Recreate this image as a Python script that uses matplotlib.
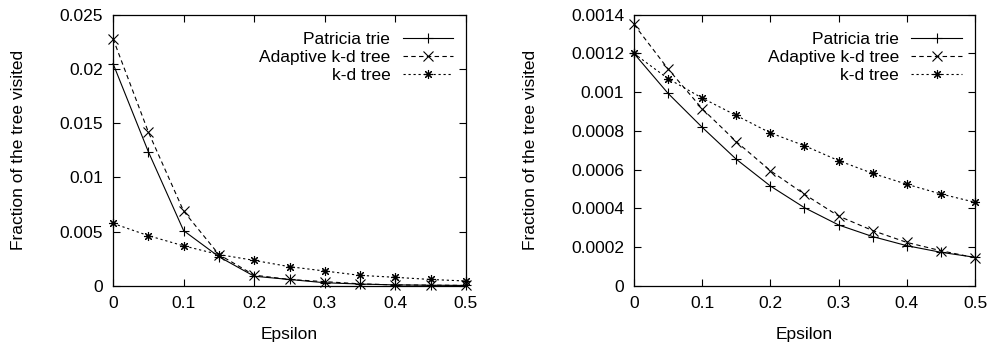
import matplotlib
matplotlib.use("Agg")
import matplotlib.pyplot as plt

plt.rcParams['font.family'] = ['Liberation Sans', 'DejaVu Sans']

epsilon = [0.0, 0.05, 0.1, 0.15, 0.2, 0.25, 0.3, 0.35, 0.4, 0.45, 0.5]

# Left panel
left_patricia = [0.0205, 0.01238, 0.0051, 0.0027, 0.0009, 0.0006, 0.0003, 0.00018, 0.0001, 0.00007, 0.00005]
left_adaptive = [0.0228, 0.0142, 0.0069, 0.0029, 0.0010, 0.0006, 0.0004, 0.0002, 0.0001, 0.00008, 0.00005]
left_kd = [0.00577, 0.00464, 0.0037, 0.0029, 0.00236, 0.00178, 0.00138, 0.00098, 0.0008, 0.0006, 0.00046]

# Right panel
right_patricia = [0.0012, 0.000994, 0.000819, 0.000654, 0.000516, 0.000404, 0.000315, 0.000255, 0.000208, 0.000174, 0.000148]
right_adaptive = [0.00135, 0.00112, 0.000915, 0.000745, 0.000595, 0.000473, 0.000361, 0.000286, 0.000225, 0.000182, 0.000146]
right_kd = [0.0012, 0.00107, 0.00097, 0.00088, 0.00079, 0.000724, 0.000647, 0.000581, 0.000525, 0.000475, 0.000432]

series_names = ["Patricia trie", "Adaptive k-d tree", "k-d tree"]

left_yticks = [0, 0.005, 0.01, 0.015, 0.02, 0.025]
left_ylabels = ["0", "0.005", "0.01", "0.015", "0.02", "0.025"]
right_yticks = [0, 0.0002, 0.0004, 0.0006, 0.0008, 0.001, 0.0012, 0.0014]
right_ylabels = ["0", "0.0002", "0.0004", "0.0006", "0.0008", "0.001", "0.0012", "0.0014"]
xticks = [0, 0.1, 0.2, 0.3, 0.4, 0.5]
xlabels = ["0", "0.1", "0.2", "0.3", "0.4", "0.5"]

FS = 12.5
fig = plt.figure(figsize=(9.94, 3.47), dpi=100)
ax1 = fig.add_axes([0.1137, 0.1758, 0.3551, 0.7818])
ax2 = fig.add_axes([0.6378, 0.1758, 0.3431, 0.7818])

styles = [
    dict(linestyle='-', marker='+'),
    dict(linestyle=(0, (4, 3)), marker='x'),
    dict(linestyle=(0, (2, 2.5)), marker=(8, 2, 0)),
]

def draw(ax, data, yticks, ylabels, ymax):
    for vals, name, st in zip(data, series_names, styles):
        ax.plot(epsilon, vals, color='black', linewidth=0.8, markersize=6.5,
                markeredgewidth=0.8, label=name, clip_on=False, **st)
    ax.set_xlim(0, 0.5)
    ax.set_ylim(0, ymax)
    ax.set_xticks(xticks)
    ax.set_xticklabels(xlabels, fontsize=FS)
    ax.set_yticks(yticks)
    ax.set_yticklabels(ylabels, fontsize=FS)
    ax.tick_params(direction='in', length=5, width=0.8, top=True, right=True, pad=7)
    for s in ax.spines.values():
        s.set_linewidth(0.9)
    ax.set_xlabel("Epsilon", fontsize=FS, labelpad=12)
    ax.set_ylabel("Fraction of the tree visited", fontsize=FS, labelpad=24)
    leg = ax.legend(loc='upper right', bbox_to_anchor=(1.012, 1.0), frameon=False,
                    fontsize=FS, markerfirst=False,
                    handlelength=2.9, handletextpad=0.7, labelspacing=0.17,
                    borderaxespad=0.6, borderpad=0.4)
    for t in leg.get_texts():
        t.set_ha('right')
    leg._legend_box.align = 'right'

draw(ax1, [left_patricia, left_adaptive, left_kd], left_yticks, left_ylabels, 0.025)
draw(ax2, [right_patricia, right_adaptive, right_kd], right_yticks, right_ylabels, 0.0014)

fig.savefig("out.png", dpi=100)
